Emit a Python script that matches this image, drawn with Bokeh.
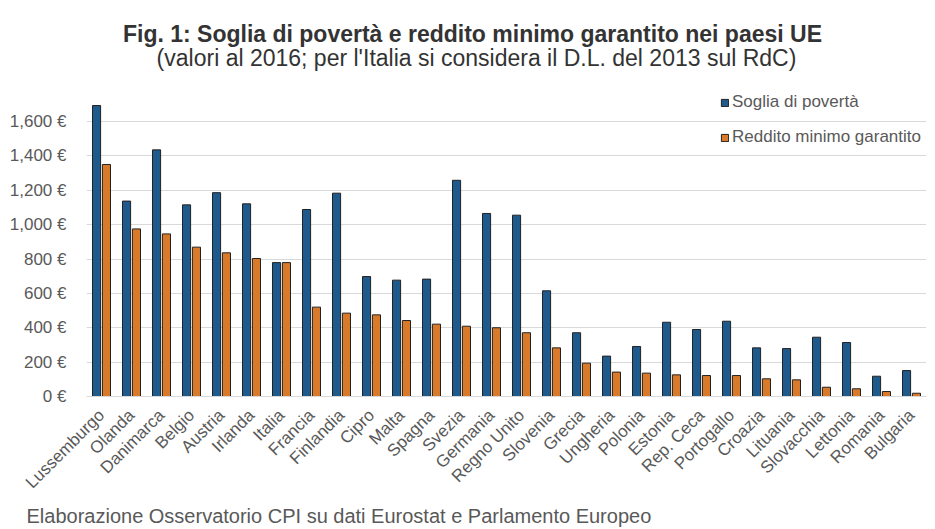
from bokeh.plotting import figure
from bokeh.models import (ColumnDataSource, FactorRange, Range1d, FixedTicker,
                          CustomJSTickFormatter, Label, Legend, LegendItem, Title)
from bokeh.transform import dodge
from bokeh.embed import file_html
from bokeh.resources import INLINE
from math import pi

paesi = ["Lussemburgo", "Olanda", "Danimarca", "Belgio", "Austria", "Irlanda",
         "Italia", "Francia", "Finlandia", "Cipro", "Malta", "Spagna", "Svezia",
         "Germania", "Regno Unito", "Slovenia", "Grecia", "Ungheria", "Polonia",
         "Estonia", "Rep. Ceca", "Portogallo", "Croazia", "Lituania", "Slovacchia",
         "Lettonia", "Romania", "Bulgaria"]
soglia = [1693, 1137, 1435, 1115, 1186, 1121, 779, 1088, 1183, 698, 677, 683, 1258,
          1065, 1055, 615, 371, 235, 291, 432, 390, 438, 283, 279, 345, 314, 118, 151]
reddito = [1350, 975, 946, 869, 836, 803, 779, 520, 485, 475, 442, 421, 409,
           400, 371, 283, 194, 142, 136, 126, 122, 122, 103, 97, 54, 45, 29, 19]
y_ticks = [0, 200, 400, 600, 800, 1000, 1200, 1400, 1600]

titolo = "Fig. 1: Soglia di povertà e reddito minimo garantito nei paesi UE"
sottotitolo = "(valori al 2016; per l'Italia si considera il D.L. del 2013 sul RdC)"
fonte = "Elaborazione Osservatorio CPI su dati Eurostat e Parlamento Europeo"

src = ColumnDataSource(dict(paese=paesi, soglia=soglia, reddito=reddito))

FONT = "Liberation Sans"
GRAY = "#595959"

# frame spans the full height above the x axis so title labels sit inside it
p = figure(width=935, height=529, x_range=FactorRange(factors=paesi, range_padding=0),
           y_range=Range1d(0, 2304), output_backend="svg", toolbar_location=None,
           title=None,
           min_border_left=86, min_border_right=9, min_border_top=0, min_border_bottom=133,
           background_fill_color="white", border_fill_color="white")
p.outline_line_color = None

r1 = p.vbar(x=dodge("paese", -0.165, range=p.x_range), top="soglia", width=0.27,
            source=src, fill_color="#1f5a8c", line_color="#222222", line_width=1)
r2 = p.vbar(x=dodge("paese", 0.165, range=p.x_range), top="reddito", width=0.27,
            source=src, fill_color="#d87a2a", line_color="#222222", line_width=1)

p.xgrid.grid_line_color = None
p.ygrid.grid_line_color = "#d9d9d9"
p.ygrid.grid_line_width = 1
p.yaxis.ticker = FixedTicker(ticks=y_ticks)
p.yaxis.formatter = CustomJSTickFormatter(code="return tick.toLocaleString('en-US') + ' €';")
p.yaxis.axis_line_color = None
p.yaxis.major_tick_line_color = None
p.yaxis.minor_tick_line_color = None
p.yaxis.major_label_text_font = FONT
p.yaxis.major_label_text_font_size = "17px"
p.yaxis.major_label_text_color = GRAY
p.yaxis.major_label_standoff = 14

p.xaxis.axis_line_color = "#d9d9d9"
p.xaxis.major_tick_line_color = None
p.xaxis.minor_tick_line_color = None
p.xaxis.major_label_orientation = pi / 4
p.xaxis.major_label_text_font = FONT
p.xaxis.major_label_text_font_size = "17px"
p.xaxis.major_label_text_color = GRAY
p.xaxis.major_label_standoff = 10

legend = Legend(items=[LegendItem(label="Soglia di povertà", renderers=[r1]),
                       LegendItem(label="Reddito minimo garantito", renderers=[r2])],
                location=(634, 249), padding=0, margin=0, spacing=15,
                glyph_width=9, glyph_height=9, label_height=20, label_standoff=3,
                label_text_font=FONT, label_text_font_size="17px", label_text_color=GRAY,
                background_fill_alpha=0, border_line_alpha=0)
p.add_layout(legend)

# Label screen units are measured from the frame's bottom-left corner (frame at x=86, bottom y=396)
p.add_layout(Label(x=386, y=363, x_units="screen", y_units="screen", text=titolo,
                   text_align="center", text_baseline="middle", text_font=FONT,
                   text_font_size="23px", text_font_style="bold", text_color="#333333"))
p.add_layout(Label(x=390, y=339, x_units="screen", y_units="screen", text=sottotitolo,
                   text_align="center", text_baseline="middle", text_font=FONT,
                   text_font_size="23px", text_color="#333333"))
p.add_layout(Title(text=fonte, align="left", text_font=FONT, text_font_size="20px",
                   text_font_style="normal", text_color=GRAY, offset=-60, standoff=3), "below")

open("out.html", "w").write(file_html(p, INLINE))
